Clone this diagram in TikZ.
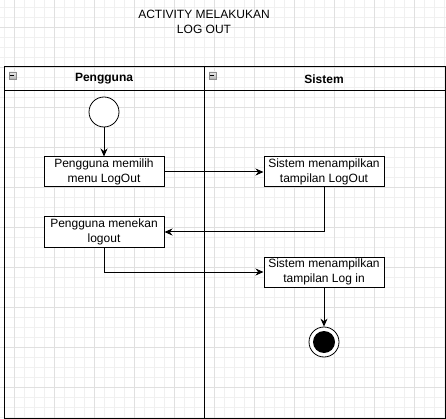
\documentclass[tikz,border=0pt]{standalone}
\usepackage{fontspec}
\setmainfont{Liberation Sans}
\usetikzlibrary{arrows.meta}
\tikzset{
  minorgrid/.style={draw=black!6,line width=0.8pt},
  majorgrid/.style={draw=black!12,line width=0.8pt},
  lane/.style={draw,line width=1pt},
  act/.style={draw,fill=white,line width=1pt,minimum width=120,minimum height=30,
    inner sep=0pt,align=center,font=\fontsize{12}{14.3}\selectfont},
  lanehead/.style={font=\fontsize{12}{14}\selectfont\bfseries},
  minbox/.style={draw=black!45,top color=black!8,bottom color=black!30,
    minimum size=7,inner sep=0pt},
  flow/.style={line width=1pt,->,>={Stealth[length=8pt,width=7pt]}}
}
\begin{document}
\begin{tikzpicture}[x=1pt,y=-1pt]
      \useasboundingbox (0,0) rectangle (446,419);
      % background grid
      \foreach \x in {4.5,14.5,...,444.5} \draw[minorgrid] (\x,0) -- (\x,419);
      \foreach \y in {7.5,17.5,...,417.5} \draw[minorgrid] (0,\y) -- (446,\y);
      \foreach \x in {14.5,54.5,...,414.5} \draw[majorgrid] (\x,0) -- (\x,419);
      \foreach \y in {27.5,67.5,...,387.5} \draw[majorgrid] (0,\y) -- (446,\y);
      % title
      \node[align=center,font=\fontsize{12}{14.4}\selectfont] (judul) at (204,22) {ACTIVITY MELAKUKAN\\LOG OUT};
      % swimlanes
      \draw[lane] (4,67) rectangle (445,418);
      \draw[lane] (4,91) -- (445,91);
      \draw[lane] (204,67) -- (204,418);
      \node[lanehead] (pengguna) at (104,79) {Pengguna};
      \node[lanehead] (sistem) at (324,79) {Sistem};
      \node[minbox] (min1) at (12.5,75.5) {};
      \node[minbox] (min2) at (212.5,75.5) {};
      \draw (min1.west) ++(1.5,0) -- ++(4,0);
      \draw (min2.west) ++(1.5,0) -- ++(4,0);
      % activities
      \node[circle,draw,fill=white,line width=0.8pt,minimum size=30,inner sep=0pt] (start) at (104,112) {};
      \node[act] (pilih) at (104,172) {Pengguna memilih\\menu LogOut};
      \node[act] (tampil1) at (324,172) {Sistem menampilkan\\tampilan LogOut};
      \node[act] (tekan) at (104,232) {Pengguna menekan\\logout};
      \node[act] (tampil2) at (324,272) {Sistem menampilkan\\tampilan Log in};
      \node[circle,draw,fill=white,line width=0.8pt,minimum size=30,inner sep=0pt] (end) at (324,342) {};
      \fill (end) circle (11);
      % flows
      \draw[flow] (start) -- (pilih);
      \draw[flow] (pilih) -- (tampil1);
      \draw[flow] (tampil1.south) |- (tekan.east);
      \draw[flow] (tekan.south) |- (tampil2.west);
      \draw[flow] (tampil2) -- (end);
    \end{tikzpicture}
\end{document}
